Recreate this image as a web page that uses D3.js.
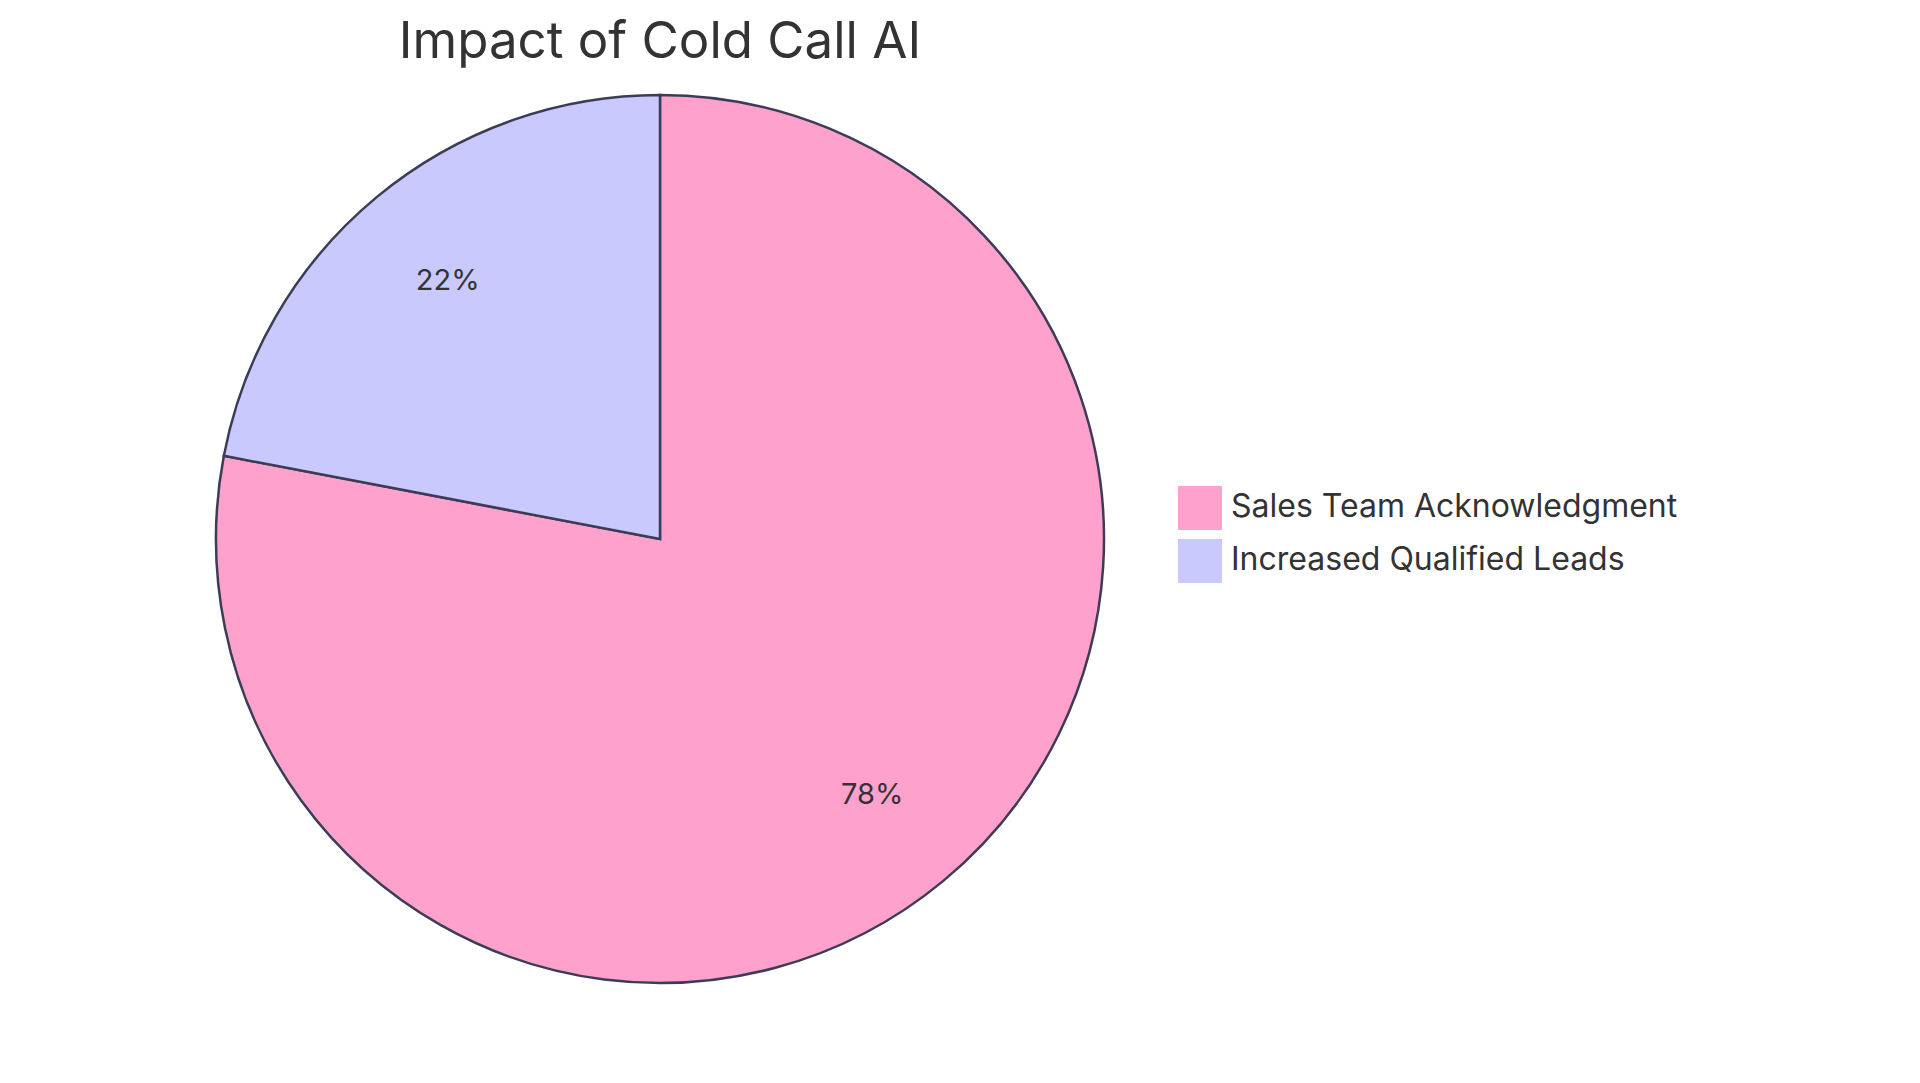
<!DOCTYPE html>
<html><head><meta charset="utf-8">
<script src="https://cdn.jsdelivr.net/npm/d3@7"></script>
<style>body{margin:0;background:#fff}text{font-family:Inter,"Open Sans",sans-serif;fill:#333}</style>
</head><body><svg id="c" width="1920" height="1083"></svg>
<script>
const categories = ["Sales Team Acknowledgment", "Increased Qualified Leads"];
const values = [78, 22];
const colors = ["#FFA1CD", "#C9C9FE"];
const title = "Impact of Cold Call AI";

const svg = d3.select("#c");
const cx = 660, cy = 539, r = 444;
const pie = d3.pie().sort(null).value(d => d)(values);
const arc = d3.arc().innerRadius(0).outerRadius(r);
const labelArc = d3.arc().innerRadius(r * 0.75).outerRadius(r * 0.75);
const g = svg.append("g").attr("transform", `translate(${cx},${cy})`);
g.selectAll("path").data(pie).enter().append("path")
  .attr("d", arc).attr("fill", (d, i) => colors[i])
  .attr("stroke", "#3b3d57").attr("stroke-width", 2.5);
g.selectAll("text").data(pie).enter().append("text")
  .attr("transform", d => `translate(${labelArc.centroid(d)})`)
  .attr("text-anchor", "middle").attr("dominant-baseline", "middle")
  .style("font-size", "29px")
  .text(d => Math.round(d.data / d3.sum(values) * 100) + "%");
svg.append("text").attr("x", cx).attr("y", 58).attr("text-anchor", "middle")
  .style("font-size", "51px").text(title);
const lg = svg.append("g").attr("transform", "translate(1178,486)");
categories.forEach((c, i) => {
  lg.append("rect").attr("x", 0).attr("y", i * 53).attr("width", 44).attr("height", 44)
    .attr("fill", colors[i]);
  lg.append("text").attr("x", 53).attr("y", i * 53 + 22).attr("dominant-baseline", "middle")
    .style("font-size", "32px").text(c);
});
</script></body></html>
